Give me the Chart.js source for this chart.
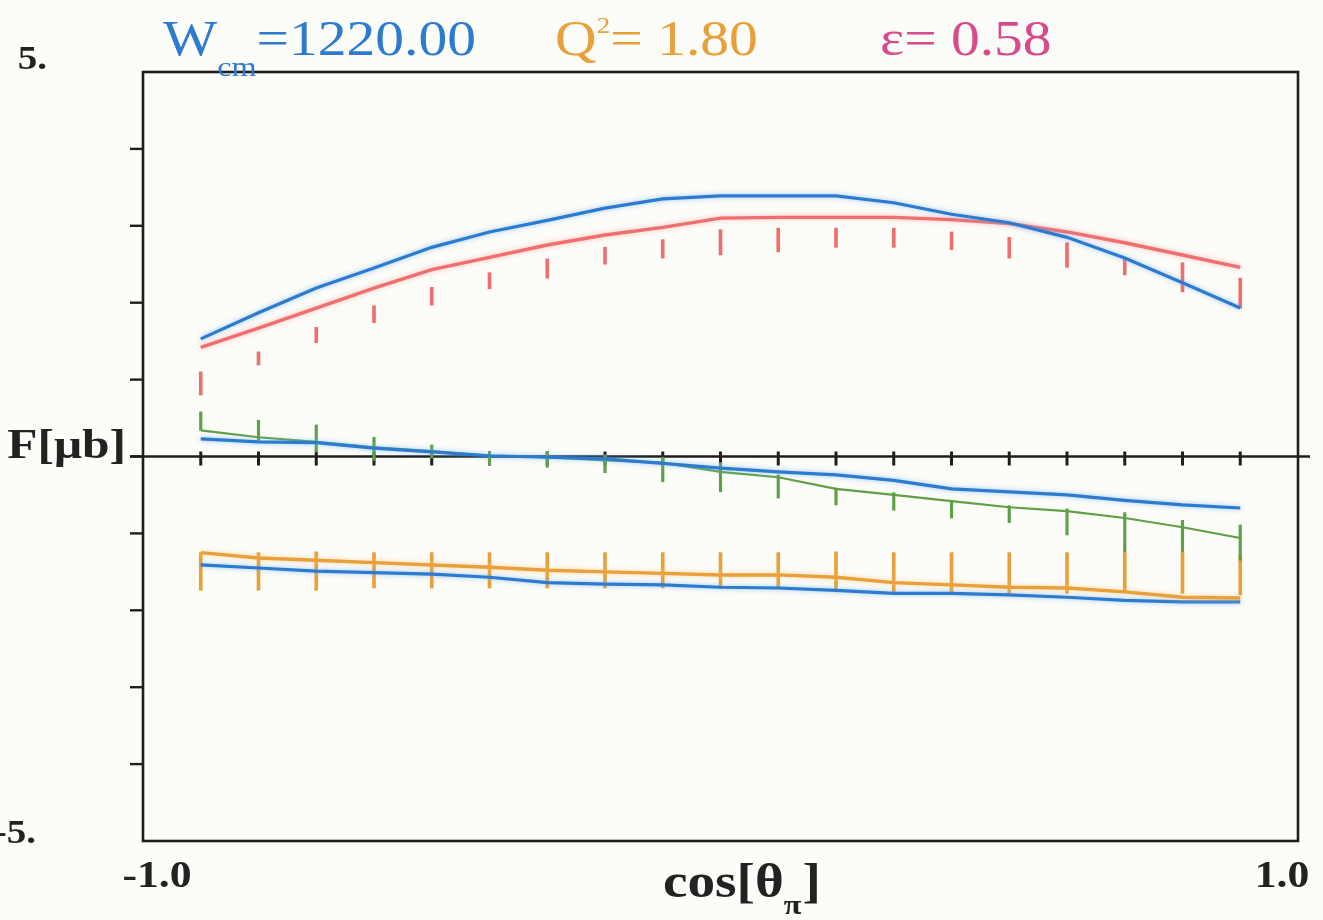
<!DOCTYPE html>
<html>
<head>
<meta charset="utf-8">
<title>Structure functions vs cos θπ</title>
<script src="https://cdn.jsdelivr.net/npm/chart.js@4.4.1/dist/chart.umd.min.js"></script>
<style>
  html, body { margin: 0; padding: 0; background: #fcfcf8; }
  #wrap { position: relative; width: 1323px; height: 920px; }
  canvas { display: block; }
</style>
</head>
<body>
<div id="wrap"><canvas id="c" width="1323" height="920"></canvas></div>
<script>
// Angular points (cos θπ)
const cosTheta = [-0.9, -0.8, -0.7, -0.6, -0.5, -0.4, -0.3, -0.2, -0.1, 0.0,
                  0.1, 0.2, 0.3, 0.4, 0.5, 0.6, 0.7, 0.8, 0.9];

// Model curves
const blueUpper = [1.53, 1.87, 2.19, 2.45, 2.72, 2.92, 3.07, 3.23, 3.35, 3.39,
                   3.39, 3.39, 3.30, 3.15, 3.04, 2.85, 2.58, 2.26, 1.93];
const redCurve  = [1.42, 1.67, 1.93, 2.19, 2.43, 2.59, 2.75, 2.88, 2.98, 3.10,
                   3.11, 3.11, 3.11, 3.08, 3.03, 2.92, 2.78, 2.62, 2.46];
const blueMiddle = [0.23, 0.19, 0.18, 0.11, 0.06, 0.01, -0.01, -0.03, -0.09, -0.15,
                    -0.20, -0.24, -0.31, -0.42, -0.46, -0.50, -0.57, -0.63, -0.67];
const greenCurve = [0.34, 0.25, 0.19, 0.12, 0.07, 0.01, -0.01, -0.05, -0.08, -0.20,
                    -0.27, -0.42, -0.50, -0.58, -0.66, -0.71, -0.80, -0.92, -1.06];
const orangeCurve = [-1.25, -1.32, -1.35, -1.38, -1.41, -1.44, -1.48, -1.50, -1.52, -1.54,
                     -1.54, -1.57, -1.64, -1.67, -1.70, -1.71, -1.76, -1.83, -1.84];
const blueLower = [-1.41, -1.45, -1.49, -1.51, -1.53, -1.57, -1.64, -1.66, -1.67, -1.70,
                   -1.71, -1.74, -1.78, -1.78, -1.80, -1.83, -1.87, -1.89, -1.89];

// Data with error ranges (low / high)
const redLow  = [0.80, 1.19, 1.48, 1.74, 1.97, 2.18, 2.32, 2.50, 2.58, 2.62,
                 2.66, 2.72, 2.72, 2.69, 2.58, 2.46, 2.36, 2.14, 1.93];
const redHigh = [1.10, 1.36, 1.68, 1.96, 2.20, 2.39, 2.57, 2.72, 2.82, 2.95,
                 2.97, 2.97, 2.97, 2.92, 2.85, 2.78, 2.58, 2.52, 2.32];
const greenLow  = [0.34, 0.21, 0.06, -0.05, -0.02, -0.11, -0.14, -0.21, -0.33, -0.46,
                   -0.54, -0.63, -0.70, -0.80, -0.86, -1.02, -1.24, -1.24, -1.35];
const greenHigh = [0.58, 0.47, 0.41, 0.25, 0.15, 0.06, 0.06, 0.02, -0.01, -0.08,
                   -0.24, -0.41, -0.47, -0.57, -0.64, -0.68, -0.73, -0.83, -0.89];
const orangeLow  = [-1.74, -1.74, -1.74, -1.71, -1.71, -1.71, -1.71, -1.71, -1.71, -1.71,
                    -1.71, -1.76, -1.76, -1.78, -1.78, -1.78, -1.76, -1.78, -1.80];
const orangeHigh = [-1.25, -1.25, -1.24, -1.25, -1.25, -1.25, -1.25, -1.25, -1.25, -1.25,
                    -1.25, -1.24, -1.25, -1.25, -1.25, -1.25, -1.24, -1.24, -1.28];

// Axis ticks
const yTickValues = [-4, -3, -2, -1, 0, 1, 2, 3, 4];
const xTickLabels = ['-1.0', '1.0'];
const yTickLabels = ['5.', '-5.'];

const BLUE = '#2c7bcf', RED = '#ef6f6f', GREEN = '#5f9f45', ORANGE = '#e9a03a';
const PINK = '#d84a8a';

const pts = arr => cosTheta.map((x, i) => ({ x, y: arr[i] }));
const rng = (lo, hi) => cosTheta.map((x, i) => ({ x, y: [lo[i], hi[i]] }));

function lineSet(label, arr, color, width, halo) {
  return { type: 'line', label, data: pts(arr), borderColor: color, borderWidth: width,
           pointRadius: 0, tension: 0, fill: false, halo };
}
function errSet(label, lo, hi, color, thick) {
  return { type: 'bar', label, data: rng(lo, hi), backgroundColor: color,
           borderWidth: 0, barThickness: thick, grouped: false };
}

// Soft glow behind the curves
const haloPlugin = {
  id: 'halo',
  beforeDatasetDraw(chart, args) {
    const h = chart.data.datasets[args.index].halo;
    if (h) { const c = chart.ctx; c.save(); c.shadowColor = h; c.shadowBlur = 5; }
  },
  afterDatasetDraw(chart, args) {
    if (chart.data.datasets[args.index].halo) chart.ctx.restore();
  }
};

// Frame, zero axis and tick marks
const framePlugin = {
  id: 'frame',
  beforeDatasetsDraw(chart) {
    const { ctx, scales: { x, y } } = chart;
    const l = x.getPixelForValue(-1), r = x.getPixelForValue(1);
    const t = y.getPixelForValue(5), b = y.getPixelForValue(-5);
    const y0 = y.getPixelForValue(0);
    ctx.save();
    ctx.strokeStyle = '#1e1e1e';
    ctx.lineWidth = 2.6;
    ctx.strokeRect(l, t, r - l, b - t);
    // zero line, extending past the frame
    ctx.beginPath();
    ctx.moveTo(l - 13, y0); ctx.lineTo(r + 12, y0);
    ctx.stroke();
    // y ticks outside left
    ctx.lineWidth = 2.4;
    yTickValues.forEach(v => {
      const py = y.getPixelForValue(v);
      ctx.beginPath(); ctx.moveTo(l - 13, py); ctx.lineTo(l, py); ctx.stroke();
    });
    // x ticks on the zero line at every angular point
    ctx.lineWidth = 3;
    cosTheta.forEach(v => {
      const px = x.getPixelForValue(v);
      ctx.beginPath(); ctx.moveTo(px, y0 - 5); ctx.lineTo(px, y0 + 9); ctx.stroke();
    });
    ctx.restore();
  }
};

function txt(ctx, s, px, py, font, color, align, sx) {
  ctx.save();
  ctx.font = font;
  ctx.fillStyle = color;
  ctx.textBaseline = 'alphabetic';
  const w = ctx.measureText(s).width * sx;
  let x0 = px;
  if (align === 'center') x0 = px - w / 2;
  else if (align === 'right') x0 = px - w;
  ctx.translate(x0, py);
  ctx.scale(sx, 1);
  ctx.fillText(s, 0, 0);
  ctx.restore();
  return x0 + w;
}

// Labels and the header line
const labelPlugin = {
  id: 'labels',
  afterDraw(chart) {
    const { ctx, scales: { x, y } } = chart;
    const SERIF = '"Liberation Serif", "DejaVu Serif", serif';
    const SX = 1.15;
    const bold = s => 'bold ' + s + 'px ' + SERIF;
    const reg = s => s + 'px ' + SERIF;
    const l = x.getPixelForValue(-1), r = x.getPixelForValue(1);

    // y extreme labels
    txt(ctx, yTickLabels[0], 47, y.getPixelForValue(5) - 3, bold(34), '#222', 'right', SX);
    txt(ctx, yTickLabels[1], 36, y.getPixelForValue(-5) + 2, bold(34), '#222', 'right', SX);
    // y axis title at zero level
    txt(ctx, 'F[μb]', 126, y.getPixelForValue(0) + 1, bold(43), '#222', 'right', SX);
    // x extreme labels
    txt(ctx, xTickLabels[0], l + 14, 887, bold(38), '#222', 'center', SX);
    txt(ctx, xTickLabels[1], r - 16, 887, bold(38), '#222', 'center', SX);
    // x axis title cos[θπ]
    let cx = txt(ctx, 'cos[θ', 663, 897, bold(48), '#222', 'left', SX);
    cx = txt(ctx, 'π', cx, 914, bold(28), '#222', 'left', SX);
    txt(ctx, ']', cx + 1, 897, bold(48), '#222', 'left', SX);

    // header
    let hx = txt(ctx, 'W', 163, 55, reg(50), BLUE, 'left', SX);
    hx = txt(ctx, 'cm', hx, 76, reg(28), BLUE, 'left', SX);
    txt(ctx, '=1220.00', hx, 55, reg(50), BLUE, 'left', SX);
    let qx = txt(ctx, 'Q', 555, 55, reg(50), ORANGE, 'left', SX);
    qx = txt(ctx, '2', qx, 33, reg(24), ORANGE, 'left', SX);
    txt(ctx, '= 1.80', qx, 55, reg(50), ORANGE, 'left', SX);
    txt(ctx, 'ε= 0.58', 880, 55, reg(50), PINK, 'left', SX);
  }
};

new Chart(document.getElementById('c'), {
  type: 'line',
  data: {
    datasets: [
      lineSet('blue upper', blueUpper, BLUE, 3.2, 'rgba(110,175,240,0.7)'),
      lineSet('red', redCurve, RED, 3.4, 'rgba(250,160,160,0.7)'),
      lineSet('blue middle', blueMiddle, BLUE, 3.2, 'rgba(110,175,240,0.7)'),
      lineSet('green', greenCurve, GREEN, 2.2, null),
      lineSet('orange', orangeCurve, ORANGE, 3.4, 'rgba(245,200,130,0.7)'),
      lineSet('blue lower', blueLower, BLUE, 3.2, 'rgba(110,175,240,0.7)'),
      errSet('red data', redLow, redHigh, RED, 3),
      errSet('green data', greenLow, greenHigh, GREEN, 2.5),
      errSet('orange data', orangeLow, orangeHigh, ORANGE, 3)
    ]
  },
  options: {
    responsive: false,
    animation: false,
    layout: { padding: { left: 143, right: 25, top: 72, bottom: 79 } },
    plugins: { legend: { display: false }, tooltip: { enabled: false }, title: { display: false } },
    scales: {
      x: { type: 'linear', min: -1, max: 1, display: false, offset: false },
      y: { type: 'linear', min: -5, max: 5, display: false }
    }
  },
  plugins: [framePlugin, haloPlugin, labelPlugin]
});
</script>
</body>
</html>
